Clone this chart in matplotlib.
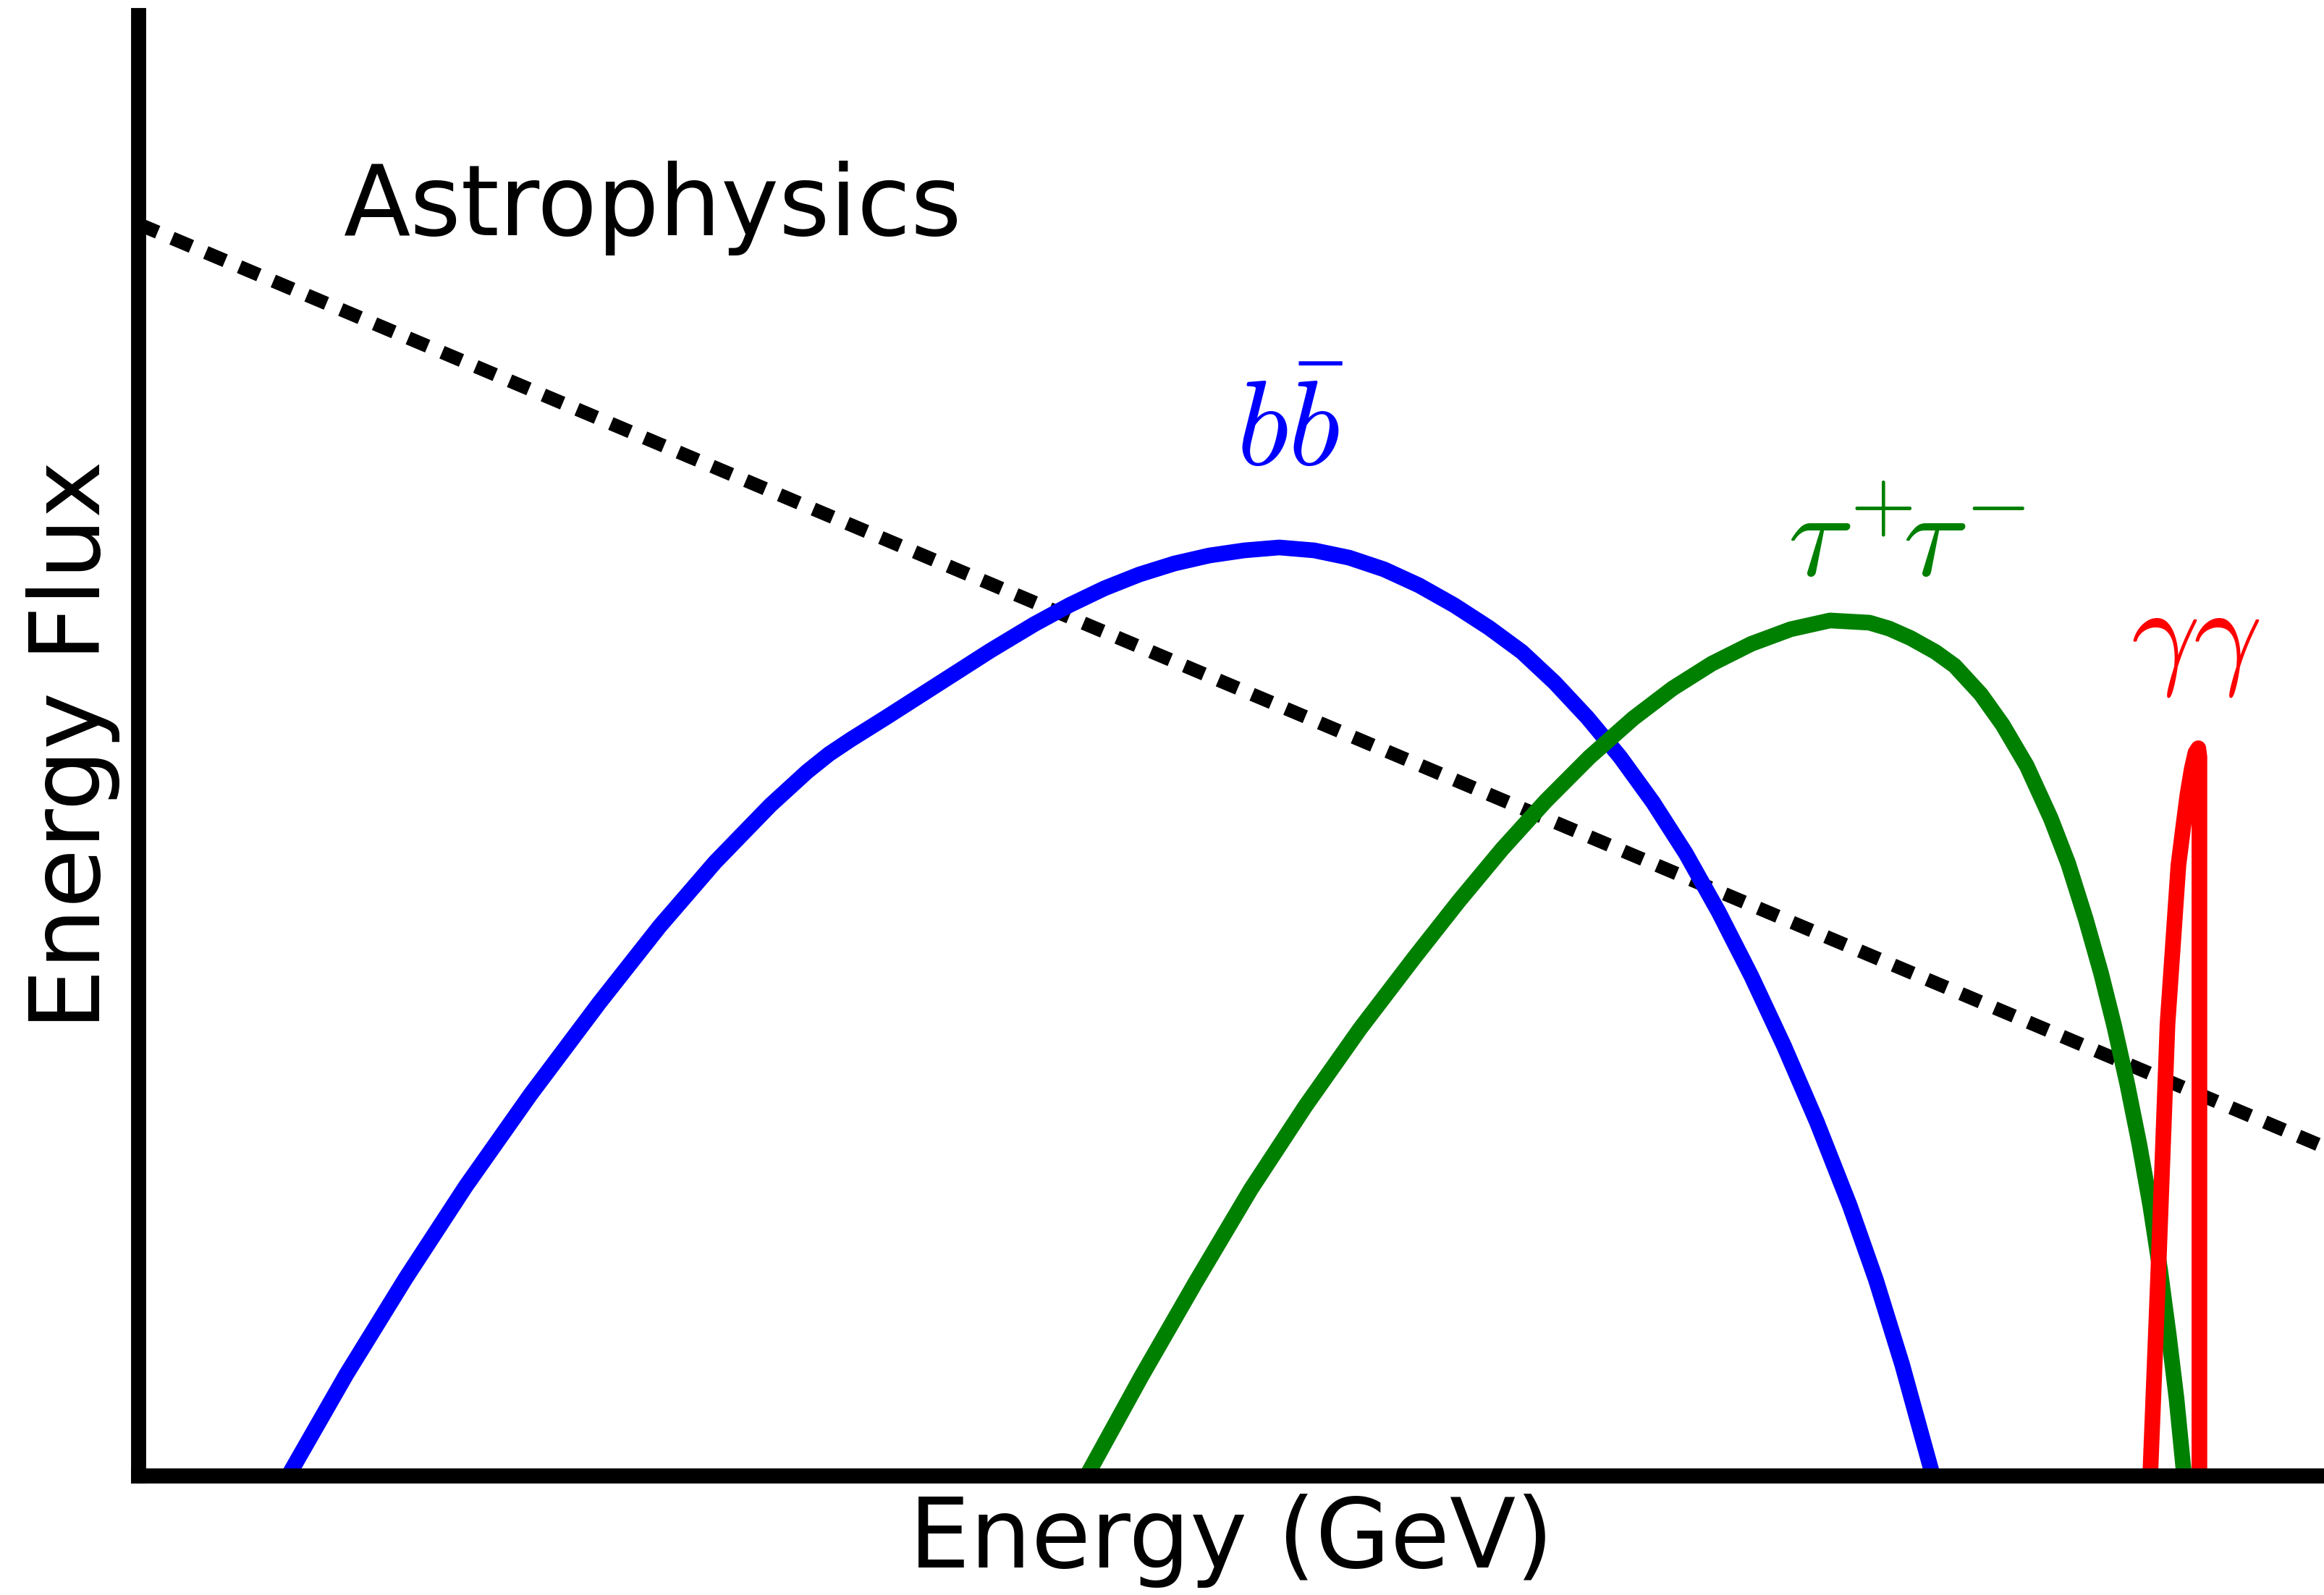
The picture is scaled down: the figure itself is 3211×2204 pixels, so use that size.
import numpy as np
import matplotlib.pyplot as plt

plt.rcParams['mathtext.fontset'] = 'cm'

# astrophysical background (straight power law)
astro_x = [0, 100]
astro_y = [85.7, 22.5]

# b bbar spectrum
bb_x = [6.87, 9.51, 12.23, 14.98, 17.95, 21.11, 23.85, 26.39, 28.92, 30.6,
        31.6, 32.6, 34.2, 36.6, 39.0, 41.0, 42.6, 44.2, 45.8, 47.4,
        49.0, 50.6, 52.2, 53.8, 55.4, 57.0, 58.6, 60.2, 61.8, 63.3,
        64.8, 66.3, 67.8, 69.3, 70.8, 72.3, 73.8, 75.3, 76.8, 78.3,
        79.5, 80.7, 82.1]
bb_y = [0, 6.9, 13.5, 19.8, 26.1, 32.4, 37.6, 42.0, 45.9, 48.2,
        49.4, 50.4, 51.9, 54.2, 56.5, 58.3, 59.6, 60.75, 61.7, 62.45,
        63.0, 63.35, 63.55, 63.35, 62.85, 62.05, 60.95, 59.6, 58.05, 56.4,
        54.3, 51.9, 49.2, 46.1, 42.6, 38.6, 34.2, 29.4, 24.2, 18.5,
        13.4, 7.6, 0]

# tau tau spectrum
tt_x = [43.4, 45.9, 48.4, 50.9, 53.4, 55.9, 58.4, 60.4, 62.4, 64.4,
        66.4, 68.4, 70.2, 72.0, 73.8, 75.6, 77.4, 79.2, 80.1, 81.08,
        82.22, 83.1, 84.3, 85.3, 86.4, 87.5, 88.3, 89.1, 89.8, 90.4,
        91.0, 91.55, 92.05, 92.5, 92.9, 93.25, 93.6]
tt_y = [0, 6.8, 13.3, 19.6, 25.3, 30.6, 35.5, 39.3, 42.9, 46.2,
        49.2, 51.85, 53.9, 55.6, 56.95, 57.95, 58.55, 58.4, 58.0, 57.35,
        56.4, 55.45, 53.5, 51.4, 48.6, 45.0, 41.9, 38.1, 34.4, 30.8,
        26.8, 22.7, 18.5, 14.1, 9.6, 5.3, 0]

# gamma gamma line
gg_x = [92.05, 92.4, 92.84, 93.34, 93.55, 93.75, 93.95, 94.12, 94.25, 94.3, 94.3]
gg_y = [0, 13.2, 30.9, 41.8, 44.3, 46.6, 48.4, 49.5, 49.8, 49.2, 0]

fig = plt.figure(figsize=(3211/300, 2204/300), dpi=300)
ax = fig.add_axes([0.0595, 0.0749, 0.9405, 0.9156])

ax.plot(astro_x, astro_y, color='black', lw=4.5, ls=(0, (1.55, 1.15)))
ax.plot(bb_x, bb_y, color='blue', lw=5.2)
ax.plot(tt_x, tt_y, color='green', lw=5.2)
ax.plot(gg_x, gg_y, color='red', lw=5.2)

ax.text(9.4, 86.8, 'Astrophysics', fontsize=32.4, va='center', ha='left')
ax.text(52.7, 71.5, r'$b\bar{b}$', color='blue', fontsize=40,
        ha='center', va='center')
ax.text(80.9, 63.9, r'$\tau^{\!+}\!\!\tau^{\!-}$', color='green', fontsize=40,
        ha='center', va='center')
ax.text(94.1, 57.2, r'$\gamma\gamma$', color='red', fontsize=40,
        ha='center', va='center')

ax.set_xlim(0, 100)
ax.set_ylim(0, 100)
ax.set_xticks([])
ax.set_yticks([])
for s in ['top', 'right']:
    ax.spines[s].set_visible(False)
for s in ['left', 'bottom']:
    ax.spines[s].set_linewidth(5)

ax.set_xlabel('Energy (GeV)', fontsize=32, labelpad=6)
ax.set_ylabel('Energy Flux', fontsize=32, labelpad=6)

fig.savefig('out.png', dpi=300)
